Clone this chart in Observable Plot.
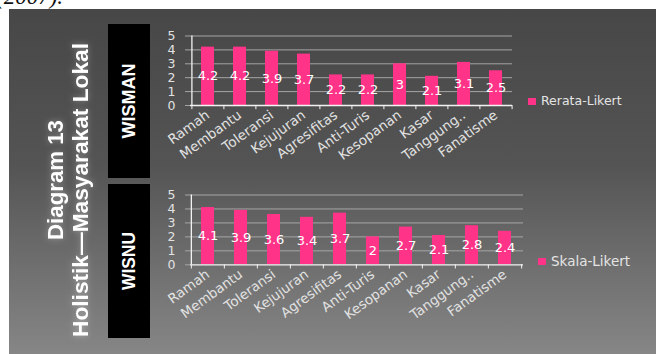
<!DOCTYPE html>
<html>
<head>
<meta charset="utf-8">
<script src="https://cdn.jsdelivr.net/npm/d3@7"></script>
<script src="https://cdn.jsdelivr.net/npm/@observablehq/plot@0.6"></script>
<style>
  html, body { margin: 0; padding: 0; background: #ffffff; }
  #stage { position: relative; width: 656px; height: 354px; overflow: hidden; background: #fff; }
  #slide { position: absolute; left: 9px; top: 9px; width: 647px; height: 345px;
           background: linear-gradient(to bottom, #474747 0%, #545454 45%, #868686 100%); }
  #cite { position: absolute; left: -4px; top: -16px; font: italic 23px "Liberation Serif", serif; color: #111; white-space: nowrap; }
  .box { position: absolute; left: 108px; width: 42px; background: #000; }
  .chart { position: absolute; left: 0; }
  .legend { position: absolute; font-family: "DejaVu Sans", sans-serif; color: #e4e4e4; white-space: nowrap; }
  .legend .sw { position: absolute; left: 0; width: 8px; height: 7px; background: #ff3388; }
  #overlay { position: absolute; left: 0; top: 0; }
</style>
</head>
<body>
<div id="stage">
  <div id="cite">(2007).</div>
  <div id="slide"></div>
  <div class="box" style="top:24px;height:154px"></div>
  <div class="box" style="top:184px;height:154px"></div>
</div>
<script>
const categories = ["Ramah", "Membantu", "Toleransi", "Kejujuran", "Agresifitas", "Anti-Turis", "Kesopanan", "Kasar", "Tanggung..", "Fanatisme"];
const wismanValues = [4.2, 4.2, 3.9, 3.7, 2.2, 2.2, 3, 2.1, 3.1, 2.5];
const wisnuValues = [4.1, 3.9, 3.6, 3.4, 3.7, 2, 2.7, 2.1, 2.8, 2.4];
const yTicks = [0, 1, 2, 3, 4, 5];
const seriesNames = ["Rerata-Likert", "Skala-Likert"];
const panelLabels = ["WISMAN", "WISNU"];
const titleLines = ["Diagram 13", "Holistik\u2014Masyarakat Lokal"];

const W = 656, ML = 190;
const barColor = "#ff3388";
const axisColor = "#f2f2f2";
const gridColor = "#a6a6a6";
const labelColor = "#e2e2e2";

function makeChart(values, cfg) {
  const data = categories.map((cat, i) => ({cat, v: values[i]}));
  const step = (W - ML - cfg.marginRight) / categories.length;
  const plot = Plot.plot({
    width: W, height: cfg.height,
    marginLeft: ML, marginRight: cfg.marginRight, marginTop: cfg.marginTop, marginBottom: cfg.marginBottom,
    style: {background: "transparent", color: labelColor, fontFamily: "'DejaVu Sans', sans-serif", fontSize: "12px", overflow: "visible"},
    x: {domain: categories, paddingInner: 0.6, paddingOuter: 0.3, label: null},
    y: {domain: [0, 5], label: null},
    marks: [
      Plot.gridY(yTicks.slice(1), {stroke: gridColor, strokeOpacity: 1}),
      Plot.axisY({ticks: yTicks, tickFormat: d3.format("d"), tickSize: 5, tickPadding: 10, stroke: gridColor, fill: labelColor, fontSize: 12.5, label: null}),
      Plot.barY(data, {x: "cat", y: "v", fill: barColor}),
      Plot.ruleY([0], {stroke: axisColor, strokeWidth: 1.3}),
      Plot.ruleX([categories[0]], {y1: 0, y2: 5, dx: -step / 2, stroke: axisColor, strokeWidth: 1.3}),
      Plot.ruleX(categories, {y1: 0, y2: -0.3, dx: -step / 2, stroke: axisColor}),
      Plot.ruleX([categories[categories.length - 1]], {y1: 0, y2: -0.3, dx: step / 2, stroke: axisColor}),
      Plot.axisX({tickSize: 0, tickRotate: -36, tickPadding: 8, fill: labelColor, fontSize: 13.5, label: null}),
      Plot.text(data, {x: "cat", y: d => d.v / 2, text: d => String(d.v), fill: "#ffffff", fontSize: 13})
    ]
  });
  plot.classList.add("chart");
  plot.style.top = cfg.top + "px";
  return plot;
}

const stage = document.getElementById("stage");
stage.appendChild(makeChart(wismanValues, {top: 0, height: 180, marginTop: 35.5, marginBottom: 75, marginRight: 144}));
stage.appendChild(makeChart(wisnuValues, {top: 177, height: 177, marginTop: 17.5, marginBottom: 89.7, marginRight: 133}));

function legend(name, left, top, fs) {
  const d = document.createElement("div");
  d.className = "legend";
  d.style.left = left + "px";
  d.style.top = top + "px";
  d.style.fontSize = fs + "px";
  d.innerHTML = `<span class="sw" style="top:5px"></span><span style="padding-left:13px;line-height:16px">${name}</span>`;
  stage.appendChild(d);
}
legend(seriesNames[0], 528, 93, 12.5);
legend(seriesNames[1], 538, 253, 13.5);

// titles
const ns = "http://www.w3.org/2000/svg";
const svg = document.createElementNS(ns, "svg");
svg.setAttribute("id", "overlay");
svg.setAttribute("width", W);
svg.setAttribute("height", 354);
function vtext(str, x, y, size, family, len, glow) {
  const t = document.createElementNS(ns, "text");
  t.setAttribute("transform", `translate(${x},${y}) rotate(-90)`);
  t.setAttribute("text-anchor", "middle");
  t.setAttribute("font-size", size);
  t.setAttribute("font-weight", "bold");
  t.setAttribute("font-family", family);
  t.setAttribute("fill", "#ffffff");
  if (len) { t.setAttribute("textLength", len); t.setAttribute("lengthAdjust", "spacingAndGlyphs"); }
  if (glow) t.setAttribute("style", "filter: drop-shadow(0 0 3px rgba(255,255,255,0.35))");
  t.textContent = str;
  svg.appendChild(t);
}
vtext(titleLines[0], 63, 180, 22, "'Liberation Sans Narrow', 'Liberation Sans', sans-serif", 120, true);
vtext(titleLines[1], 88, 190, 22, "'Liberation Sans Narrow', 'Liberation Sans', sans-serif", 294, true);
vtext(panelLabels[0], 135, 101, 18, "'Liberation Sans', Arial, sans-serif", 75, false);
vtext(panelLabels[1], 135, 261, 18, "'Liberation Sans', Arial, sans-serif", 58, false);
stage.appendChild(svg);
</script>
</body>
</html>
